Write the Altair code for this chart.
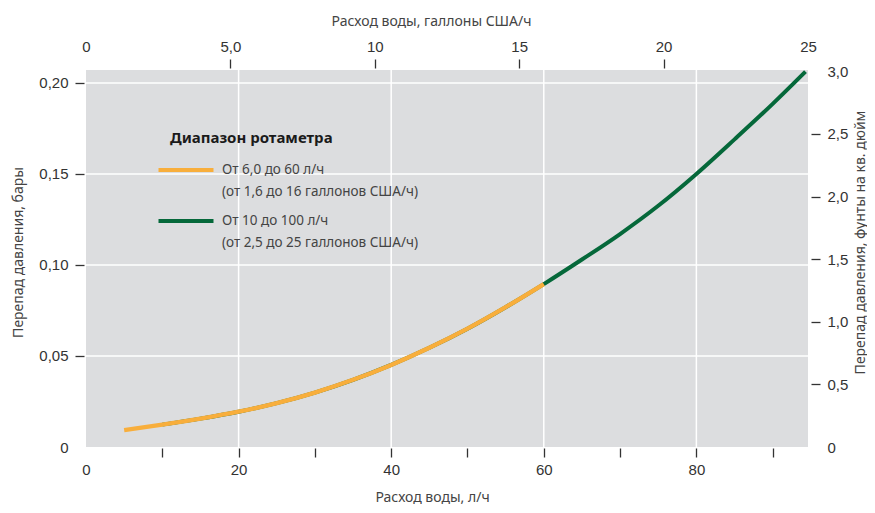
import altair as alt
import pandas as pd

# ---- data ----
flow_orange = [5, 10, 15, 20, 25, 30, 35, 40, 45, 50, 55, 60]
dp_orange = [0.0093, 0.0123, 0.0156, 0.0194, 0.0241, 0.0299, 0.0369, 0.0451,
             0.0545, 0.0650, 0.0768, 0.0895]
flow_green = [10, 15, 20, 25, 30, 35, 40, 45, 50, 55, 60, 65, 70, 75, 80, 85, 90, 94.3]
dp_green = [0.0123, 0.0156, 0.0194, 0.0241, 0.0299, 0.0369, 0.0451, 0.0545,
            0.0650, 0.0768, 0.0895, 0.1030, 0.1170, 0.1325, 0.1500, 0.1690,
            0.1885, 0.2062]
series_labels = ["От 6,0 до 60 л/ч|(от 1,6 до 16 галлонов США/ч)",
                 "От 10 до 100 л/ч|(от 2,5 до 25 галлонов США/ч)"]
series_colors = ["#F8AE3C", "#05683A"]

lph_ticks = [0, 10, 20, 30, 40, 50, 60, 70, 80, 90]
bar_ticks = [0, 0.05, 0.10, 0.15, 0.20]
gal_ticks = [0, 5, 10, 15, 20, 25]
psi_ticks = [0, 0.5, 1.0, 1.5, 2.0, 2.5, 3.0]
grid_x = [20, 40, 60, 80]
grid_y = [0.05, 0.10, 0.15, 0.20]

x_domain = [0, 94.63]
y_domain = [0, 0.2071]
gal_domain = [0, 25]
psi_domain = [0, 3.01]

LABEL_FONT = "Liberation Sans"
TITLE_FONT = "Noto Sans"

xs = alt.Scale(domain=x_domain, nice=False, zero=False)
ys = alt.Scale(domain=y_domain, nice=False, zero=False)

common = dict(domain=False, grid=False, tickColor="#333", tickWidth=1.3, tickSize=9,
              labelFont=LABEL_FONT, labelFontSize=15, labelColor="#333",
              labelOverlap=False, labelFlush=False,
              titleFont=TITLE_FONT, titleFontSize=14, titleFontWeight="normal",
              titleColor="#444", titleAlign="center")

x_axis = alt.Axis(orient="bottom", values=lph_ticks,
                  labelExpr="datum.value % 20 == 0 ? format(datum.value, 'd') : ''",
                  tickOpacity={"condition": {"test": "datum.value == 0", "value": 0}, "value": 1},
                  offset=1, labelPadding=5,
                  title="Расход воды, л/ч", titleX=346, titleY=42,
                  titleBaseline="top", **common)
y_axis = alt.Axis(orient="left", values=bar_ticks,
                  labelExpr="datum.value == 0 ? '0' : replace(format(datum.value, '.2f'), '.', ',')",
                  tickOpacity={"condition": {"test": "datum.value == 0", "value": 0}, "value": 1},
                  offset=2, labelPadding=7,
                  title="Перепад давления, бары", titleAngle=270,
                  titleX=-66, titleY=182, titleBaseline="middle", **common)
top_axis = alt.Axis(orient="top", values=gal_ticks,
                    labelExpr="datum.value == 5 ? '5,0' : format(datum.value, 'd')",
                    tickOpacity={"condition": {"test": "datum.value == 0 || datum.value == 25", "value": 0}, "value": 1},
                    offset=2, labelPadding=5,
                    title="Расход воды, галлоны США/ч", titleX=345, titleY=-54,
                    titleBaseline="top", **common)
right_axis = alt.Axis(orient="right", values=psi_ticks,
                      labelExpr="datum.value == 0 ? '0' : replace(format(datum.value, '.1f'), '.', ',')",
                      tickOpacity={"condition": {"test": "datum.value == 0 || datum.value == 3", "value": 0}, "value": 1},
                      offset=3, labelPadding=7,
                      title="Перепад давления, фунты на кв. дюйм", titleAngle=270,
                      titleX=49, titleY=172, titleBaseline="middle", **common)

color_scale = alt.Scale(domain=series_labels, range=series_colors)
legend = alt.Legend(orient="none", legendX=84, legendY=61, padding=0,
                    title="Диапазон ротаметра",
                    titleFont=TITLE_FONT, titleFontSize=15, titleFontWeight="bold",
                    titleColor="#1a1a1a", titlePadding=8,
                    symbolType="M-2,0H2", symbolSize=756, symbolStrokeWidth=4,
                    symbolOpacity=1,
                    labelFont=TITLE_FONT, labelFontSize=13.5, labelColor="#444",
                    labelExpr="split(datum.label, '|')", labelOffset=20,
                    labelLimit=400, rowPadding=6)

grid_v = alt.Chart(pd.DataFrame({"v": grid_x})).mark_rule(
    color="white", strokeWidth=1.5).encode(x=alt.X("v:Q", scale=xs, axis=None))
grid_h = alt.Chart(pd.DataFrame({"v": grid_y})).mark_rule(
    color="white", strokeWidth=1.5).encode(y=alt.Y("v:Q", scale=ys, axis=None))

df_green = pd.DataFrame({"q": flow_green, "dp": dp_green, "s": series_labels[1]})
df_orange = pd.DataFrame({"q": flow_orange, "dp": dp_orange, "s": series_labels[0]})

green = alt.Chart(df_green).mark_line(strokeWidth=4, interpolate="monotone").encode(
    x=alt.X("q:Q", scale=xs, axis=x_axis),
    y=alt.Y("dp:Q", scale=ys, axis=y_axis),
    color=alt.Color("s:N", scale=color_scale, legend=legend),
)
orange = alt.Chart(df_orange).mark_line(strokeWidth=4.3, interpolate="monotone").encode(
    x=alt.X("q:Q", scale=xs, axis=None),
    y=alt.Y("dp:Q", scale=ys, axis=None),
    color=alt.Color("s:N", scale=color_scale, legend=legend),
)

aux = alt.Chart(pd.DataFrame({"gal": gal_domain, "psi": psi_domain})).mark_point(
    opacity=0).encode(
    x=alt.X("gal:Q", scale=alt.Scale(domain=gal_domain, nice=False, zero=False), axis=top_axis),
    y=alt.Y("psi:Q", scale=alt.Scale(domain=psi_domain, nice=False, zero=False), axis=right_axis),
)

chart = alt.layer(grid_v, grid_h, green, orange, aux).resolve_scale(
    x="independent", y="independent").properties(
    width=722, height=377,
    autosize=alt.AutoSizeParams(type="none"),
    padding={"left": 78, "top": 62, "right": 59, "bottom": 58},
).configure(
    view=alt.ViewConfig(fill="#DCDDDF", stroke=None),
    style={"guide-label": {"lineHeight": 22}},
)

chart.save("out.html", embed_options={"renderer": "svg", "actions": False})
